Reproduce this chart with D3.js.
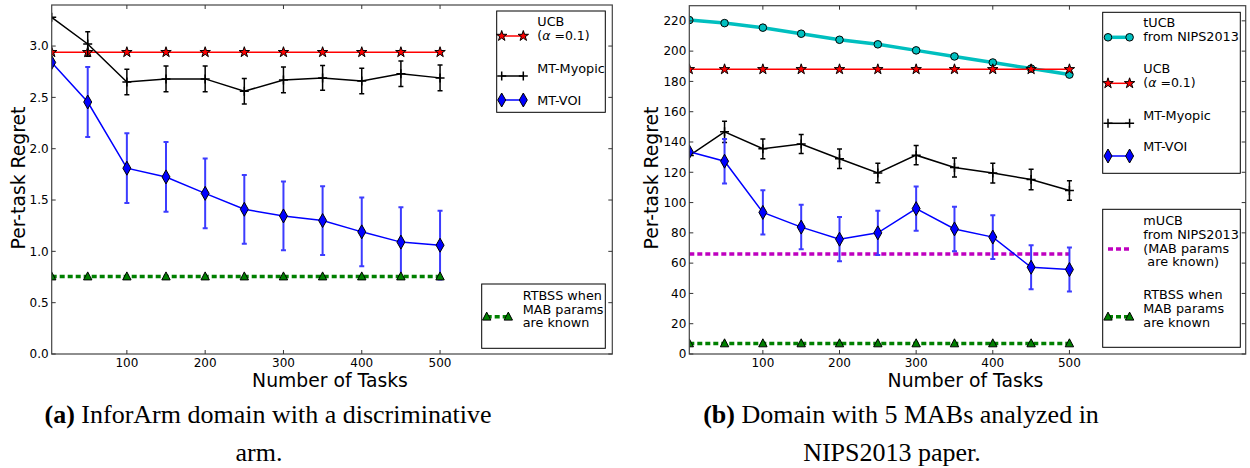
<!DOCTYPE html>
<html>
<head>
<meta charset="utf-8">
<script src="https://cdn.jsdelivr.net/npm/d3@7"></script>
<style>
  body { margin: 0; background: #fff; }
  svg { display: block; }
  text { font-family: "DejaVu Sans", sans-serif; fill: #000; }
</style>
</head>
<body>
<svg id="chart" width="1250" height="468"></svg>
<script>
// number of tasks (first point sits on the left edge of the axes)
var tasks = [4, 50, 100, 150, 200, 250, 300, 350, 400, 450, 500];
var xTicks = [100, 200, 300, 400, 500];

// (a) InforArm domain
var ucbA = [2.94, 2.94, 2.94, 2.94, 2.94, 2.94, 2.94, 2.94, 2.94, 2.94, 2.94];
var myopicA = [3.28, 3.02, 2.65, 2.68, 2.68, 2.56, 2.67, 2.69, 2.66, 2.73, 2.69];
var myopicAErr = [0, 0.12, 0.125, 0.125, 0.125, 0.125, 0.125, 0.12, 0.125, 0.125, 0.125];
var voiA = [2.84, 2.455, 1.81, 1.725, 1.565, 1.41, 1.345, 1.30, 1.19, 1.09, 1.06];
var voiAErr = [0, 0.34, 0.34, 0.34, 0.34, 0.335, 0.335, 0.335, 0.335, 0.34, 0.335];
var rtbssA = [0.755, 0.755, 0.755, 0.755, 0.755, 0.755, 0.755, 0.755, 0.755, 0.755, 0.755];
var yTicksA = [0.0, 0.5, 1.0, 1.5, 2.0, 2.5, 3.0];

// (b) 5 MABs domain
var tucbB = [220.5, 218.5, 215.5, 211.5, 207.5, 204.5, 200.5, 196.5, 192.5, 188.5, 184.5];
var ucbB = [188, 188, 188, 188, 188, 188, 188, 188, 188, 188, 188];
var myopicB = [131, 146.7, 135.5, 138.7, 128.9, 119.5, 131.3, 123.2, 119.5, 115.2, 108];
var myopicBErr = [0, 7, 6.5, 6.3, 6.4, 6.4, 6.4, 6.3, 6.5, 6.8, 6.4];
var voiB = [133.5, 127.3, 93.5, 83.8, 75.8, 80, 96, 82.6, 77.2, 57.3, 55.8];
var voiBErr = [0, 14.7, 14.6, 14.7, 14.6, 14.6, 14.6, 14.7, 14.5, 14.5, 14.5];
var mucbB = [66, 66, 66, 66, 66, 66, 66, 66, 66, 66, 66];
var rtbssB = [7, 7, 7, 7, 7, 7, 7, 7, 7, 7, 7];
var yTicksB = [0, 20, 40, 60, 80, 100, 120, 140, 160, 180, 200, 220];

var svg = d3.select('#chart');

var styles = {
    ucb:    { color: '#ff0000', width: 1.5, marker: 'star', fill: '#ff0000' },
    myopic: { color: '#000000', width: 1.5, marker: 'plus', errColor: '#000', errWidth: 1.5 },
    voi:    { color: '#0000ff', width: 1.5, marker: 'diamond', fill: '#0000ff', errColor: '#3c3cff', errWidth: 2 },
    rtbss:  { color: '#008000', width: 3.5, dash: '5,3', marker: 'triangle', fill: '#008000' },
    tucb:   { color: '#00bfbf', width: 3.5, marker: 'circle', fill: '#00bfbf' },
    mucb:   { color: '#bf00bf', width: 3.5, dash: '5,3' }
};

function drawMarker(g, type, x, y, fill) {
    if (type === 'star') {
        g.append('path').attr('d', d3.symbol(d3.symbolStar, 34)())
            .attr('transform', 'translate(' + x + ',' + y + ')')
            .attr('fill', fill).attr('stroke', '#000').attr('stroke-width', 1);
    } else if (type === 'diamond') {
        g.append('path').attr('d', 'M0,-7L4,0L0,7L-4,0Z')
            .attr('transform', 'translate(' + x + ',' + y + ')')
            .attr('fill', fill).attr('stroke', '#000').attr('stroke-width', 1);
    } else if (type === 'triangle') {
        g.append('path').attr('d', 'M0,-4.6L4.2,3.4L-4.2,3.4Z')
            .attr('transform', 'translate(' + x + ',' + y + ')')
            .attr('fill', fill).attr('stroke', '#000').attr('stroke-width', 1);
    } else if (type === 'circle') {
        g.append('circle').attr('cx', x).attr('cy', y).attr('r', 3.8)
            .attr('fill', fill).attr('stroke', '#000').attr('stroke-width', 1);
    } else if (type === 'plus') {
        g.append('path').attr('d', 'M-4.5,0H4.5M0,-4.5V4.5')
            .attr('transform', 'translate(' + x + ',' + y + ')')
            .attr('fill', 'none').attr('stroke', '#000').attr('stroke-width', 1.5);
    }
}

function drawPanel(p) {
    var x = d3.scaleLinear().domain(p.xDomain).range([p.left, p.right]);
    var y = d3.scaleLinear().domain(p.yDomain).range([p.bottom, p.top]);
    var g = svg.append('g');

    g.append('clipPath').attr('id', p.id + '-clip')
        .append('rect').attr('x', p.left).attr('y', p.top)
        .attr('width', p.right - p.left).attr('height', p.bottom - p.top);

    var plot = g.append('g').attr('clip-path', 'url(#' + p.id + '-clip)');
    var line = d3.line().x(function(d, i) { return x(tasks[i]); }).y(function(d) { return y(d); });

    p.series.forEach(function(s) {
        var st = styles[s.style];
        var sg = plot.append('g');
        if (s.err) {
            s.values.forEach(function(v, i) {
                if (!s.err[i]) return;
                var xi = x(tasks[i]);
                sg.append('path')
                    .attr('d', 'M' + xi + ',' + y(v - s.err[i]) + 'V' + y(v + s.err[i]) +
                        'M' + (xi - 2.5) + ',' + y(v - s.err[i]) + 'h5' +
                        'M' + (xi - 2.5) + ',' + y(v + s.err[i]) + 'h5')
                    .attr('fill', 'none').attr('stroke', st.errColor).attr('stroke-width', st.errWidth);
            });
        }
        sg.append('path').datum(s.values).attr('d', line)
            .attr('fill', 'none').attr('stroke', st.color).attr('stroke-width', st.width)
            .attr('stroke-dasharray', st.dash || null);
        if (st.marker) {
            s.values.forEach(function(v, i) { drawMarker(sg, st.marker, x(tasks[i]), y(v), st.fill); });
        }
    });

    // spines
    g.append('rect').attr('x', p.left).attr('y', p.top)
        .attr('width', p.right - p.left).attr('height', p.bottom - p.top)
        .attr('fill', 'none').attr('stroke', '#444').attr('stroke-width', 1.2);

    // ticks inward on all four sides
    xTicks.forEach(function(t) {
        var xi = x(t);
        g.append('path').attr('d', 'M' + xi + ',' + p.bottom + 'v-4M' + xi + ',' + p.top + 'v4')
            .attr('stroke', '#333').attr('stroke-width', 1);
        g.append('text').attr('x', xi).attr('y', p.bottom + 13)
            .attr('text-anchor', 'middle').attr('font-size', 12).text(t);
    });
    p.yTicks.forEach(function(t) {
        var yi = y(t);
        g.append('path').attr('d', 'M' + p.left + ',' + yi + 'h4M' + p.right + ',' + yi + 'h-4')
            .attr('stroke', '#333').attr('stroke-width', 1);
        g.append('text').attr('x', p.left - 3).attr('y', yi + 4.3)
            .attr('text-anchor', 'end').attr('font-size', 12).text(p.yFmt(t));
    });

    g.append('text').attr('x', (p.left + p.right) / 2 - 2).attr('y', 387)
        .attr('text-anchor', 'middle').attr('font-size', 18.8).text('Number of Tasks');
    g.append('text').attr('transform', 'translate(' + p.ylabelX + ',178) rotate(-90)')
        .attr('text-anchor', 'middle').attr('font-size', 18.8).text('Per-task Regret');

    // legends
    p.legends.forEach(function(L) {
        var lg = g.append('g');
        lg.append('rect').attr('x', L.x).attr('y', L.y).attr('width', L.w).attr('height', L.h)
            .attr('fill', '#fff').attr('stroke', '#000').attr('stroke-width', 1);
        L.entries.forEach(function(e) {
            var st = styles[e.style];
            var hx0 = L.hx, hx1 = L.hx + 21.6;
            lg.append('path').attr('d', 'M' + hx0 + ',' + e.hy + 'H' + hx1)
                .attr('stroke', st.color).attr('stroke-width', st.width)
                .attr('stroke-dasharray', st.dash || null);
            if (st.marker) {
                drawMarker(lg, st.marker, hx0, e.hy, st.fill);
                drawMarker(lg, st.marker, hx1, e.hy, st.fill);
            }
            e.lines.forEach(function(t, k) {
                var tx = lg.append('text').attr('x', L.tx).attr('y', e.ty[k] + 4.6).attr('font-size', 12.8);
                if (t === 'alpha') {
                    tx.attr('font-family', '"Liberation Serif", serif').attr('font-size', 12.5);
                    tx.append('tspan').text('(');
                    tx.append('tspan').attr('font-style', 'italic').text('α');
                    tx.append('tspan').text(' =0.1)');
                } else {
                    tx.attr('xml:space', 'preserve').text(t);
                }
            });
        });
    });

    // caption
    var cap = g.append('g');
    p.caption.forEach(function(c, k) {
        var t = cap.append('text').attr('x', c.x).attr('y', c.y).attr('text-anchor', 'middle')
            .attr('font-size', 26).style('font-family', '"Liberation Serif", serif');
        if (k === 0) {
            t.append('tspan').attr('font-weight', 'bold').text(p.tag);
            t.append('tspan').text(' ' + c.text);
        } else {
            t.text(c.text);
        }
    });
}

drawPanel({
    id: 'a', left: 51.7, right: 612.3, top: 5, bottom: 354,
    xDomain: [4, 720], yDomain: [0, 3.4], yTicks: yTicksA, yFmt: d3.format('.1f'),
    ylabelX: 24.5,
    series: [
        { style: 'ucb', values: ucbA },
        { style: 'myopic', values: myopicA, err: myopicAErr },
        { style: 'voi', values: voiA, err: voiAErr },
        { style: 'rtbss', values: rtbssA }
    ],
    legends: [
        { x: 496.7, y: 11, w: 108.6, h: 101.3, hx: 501.7, tx: 537.3, entries: [
            { style: 'ucb', hy: 36, lines: ['UCB', 'alpha'], ty: [21, 35] },
            { style: 'myopic', hy: 76, lines: ['MT-Myopic'], ty: [68.3] },
            { style: 'voi', hy: 100, lines: ['MT-VOI'], ty: [100] }
        ] },
        { x: 481.7, y: 284, w: 123.6, h: 64.3, hx: 486.7, tx: 522.7, entries: [
            { style: 'rtbss', hy: 316.7, lines: ['RTBSS when', 'MAB params', 'are known'], ty: [295, 309, 322.7] }
        ] }
    ],
    tag: '(a)',
    caption: [
        { x: 268, y: 423, text: 'InforArm domain with a discriminative' },
        { x: 259, y: 461, text: 'arm.' }
    ]
});

drawPanel({
    id: 'b', left: 689.3, right: 1245.7, top: 5.7, bottom: 354,
    xDomain: [4, 730], yDomain: [0, 230], yTicks: yTicksB, yFmt: d3.format('d'),
    ylabelX: 658,
    series: [
        { style: 'tucb', values: tucbB },
        { style: 'ucb', values: ucbB },
        { style: 'myopic', values: myopicB, err: myopicBErr },
        { style: 'mucb', values: mucbB },
        { style: 'voi', values: voiB, err: voiBErr },
        { style: 'rtbss', values: rtbssB }
    ],
    legends: [
        { x: 1102.7, y: 12.3, w: 137.6, h: 161, hx: 1108, tx: 1143.3, entries: [
            { style: 'tucb', hy: 37.3, lines: ['tUCB', 'from NIPS2013'], ty: [22.7, 36] },
            { style: 'ucb', hy: 83.3, lines: ['UCB', 'alpha'], ty: [68.3, 82.3] },
            { style: 'myopic', hy: 123.3, lines: ['MT-Myopic'], ty: [115] },
            { style: 'voi', hy: 156, lines: ['MT-VOI'], ty: [146.7] }
        ] },
        { x: 1102.7, y: 209.3, w: 137.6, h: 138, hx: 1108, tx: 1143.3, entries: [
            { style: 'mucb', hy: 249, lines: ['mUCB', 'from NIPS2013', '(MAB params', ' are known)'], ty: [220, 234, 248, 261.7] },
            { style: 'rtbss', hy: 316.7, lines: ['RTBSS when', 'MAB params', 'are known'], ty: [294.3, 308.3, 322.3] }
        ] }
    ],
    tag: '(b)',
    caption: [
        { x: 901, y: 423, text: 'Domain with 5 MABs analyzed in' },
        { x: 892, y: 461, text: 'NIPS2013 paper.' }
    ]
});
</script>
</body>
</html>
